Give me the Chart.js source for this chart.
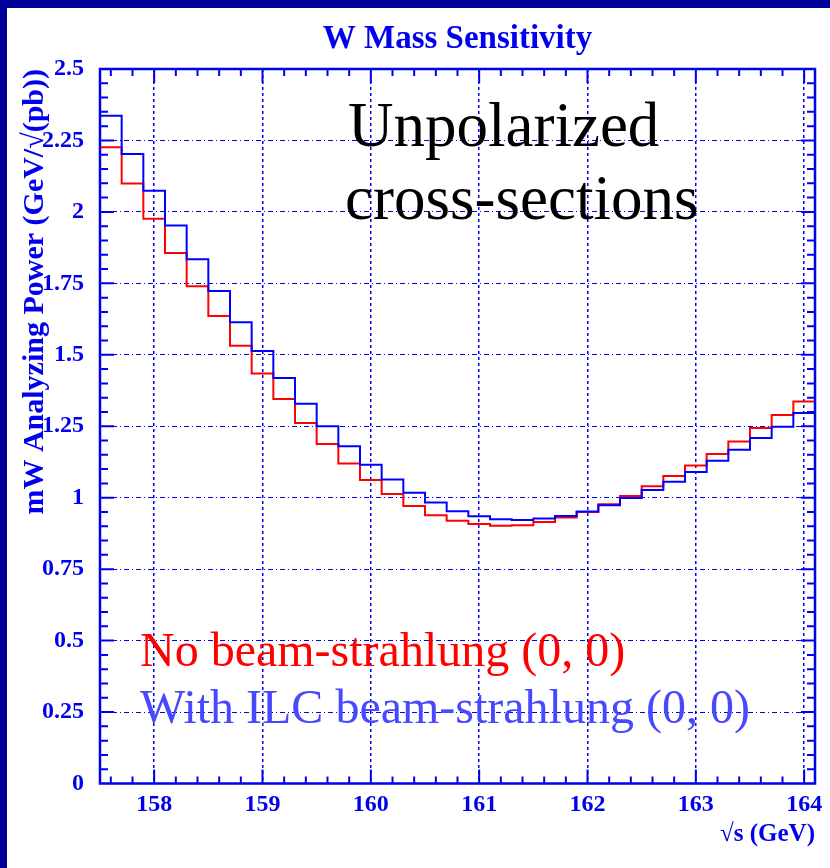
<!DOCTYPE html>
<html><head><meta charset="utf-8">
<script src="https://cdn.jsdelivr.net/npm/chart.js@4.4.0/dist/chart.umd.min.js"></script>
<style>html,body{margin:0;padding:0;background:#fff;overflow:hidden}canvas{display:block}</style>
</head><body><canvas id="c" width="830" height="868"></canvas>
<script>
// ---- data ----
const binEdges = [157.5,157.7,157.9,158.1,158.3,158.5,158.7,158.9,159.1,159.3,159.5,159.7,159.9,160.1,160.3,160.5,160.7,160.9,161.1,161.3,161.5,161.7,161.9,162.1,162.3,162.5,162.7,162.9,163.1,163.3,163.5,163.7,163.9,164.1];
const noBeamstrahlung = [2.226,2.099,1.976,1.856,1.740,1.636,1.532,1.435,1.345,1.261,1.188,1.120,1.062,1.013,0.971,0.939,0.919,0.908,0.902,0.904,0.915,0.931,0.950,0.977,1.006,1.040,1.076,1.113,1.153,1.197,1.244,1.289,1.337];
const withIlcBeamstrahlung = [2.336,2.203,2.074,1.952,1.834,1.723,1.614,1.513,1.419,1.329,1.250,1.180,1.115,1.064,1.017,0.983,0.953,0.935,0.925,0.922,0.927,0.936,0.952,0.974,0.999,1.027,1.056,1.090,1.129,1.168,1.209,1.248,1.296];
const xTickValues = [158,159,160,161,162,163,164];
const yTickValues = [0,0.25,0.5,0.75,1,1.25,1.5,1.75,2,2.25,2.5];
const chartTitle = "W Mass Sensitivity";
const seriesLabels = ["No beam-strahlung (0, 0)", "With ILC beam-strahlung (0, 0)"];
const annotationLines = ["Unpolarized", "cross-sections"];

const BLUE = '#0000ee';
const NAVY = '#000099';
const SERIF = '"Liberation Serif", "Times New Roman", serif';

function toSteps(values){
  const pts = values.map((v,i)=>({x: binEdges[i], y: v}));
  pts.push({x: binEdges[values.length], y: values[values.length-1]});
  return pts;
}

const decorPlugin = {
  id: 'decor',
  beforeDraw(chart){
    const ctx = chart.ctx;
    ctx.save();
    ctx.fillStyle = '#ffffff';
    ctx.fillRect(0,0,chart.width,chart.height);
    ctx.fillStyle = NAVY;
    ctx.fillRect(0,0,chart.width,8);
    ctx.fillRect(0,0,7,chart.height);
    ctx.restore();
  },
  afterDraw(chart){
    const ctx = chart.ctx;
    const a = chart.chartArea;
    const xs = chart.scales.x, ys = chart.scales.y;
    ctx.save();
    // ticks (inward, all four sides)
    ctx.strokeStyle = BLUE;
    ctx.lineWidth = 2;
    ctx.beginPath();
    for (let k = 0; k <= 33; k++) {
      const v = 157.6 + k*0.2;
      if (v > 164.1) break;
      const px = xs.getPixelForValue(v);
      const major = Math.abs(v - Math.round(v)) < 1e-6;
      const len = major ? 14 : 7;
      ctx.moveTo(px, a.bottom); ctx.lineTo(px, a.bottom - len);
      ctx.moveTo(px, a.top); ctx.lineTo(px, a.top + len);
    }
    for (let k = 1; k < 50; k++) {
      const v = k*0.05;
      const py = ys.getPixelForValue(v);
      const major = (k % 5) === 0;
      const len = major ? 14 : 8;
      ctx.moveTo(a.left, py); ctx.lineTo(a.left + len, py);
      ctx.moveTo(a.right, py); ctx.lineTo(a.right - len, py);
    }
    ctx.stroke();
    // frame
    ctx.lineWidth = 2.5;
    ctx.strokeRect(a.left, a.top, a.right - a.left, a.bottom - a.top);
    // title centred over the plot frame
    ctx.textBaseline = 'alphabetic';
    ctx.textAlign = 'center';
    ctx.fillStyle = BLUE;
    ctx.font = 'bold 33px ' + SERIF;
    ctx.fillText(chartTitle, (a.left + a.right) / 2, 48);
    // texts
    ctx.textAlign = 'left';
    ctx.fillStyle = '#000000';
    ctx.font = '63px ' + SERIF;
    ctx.fillText(annotationLines[0], 348, 146);
    ctx.fillText(annotationLines[1], 345, 219);
    ctx.font = '48px ' + SERIF;
    ctx.fillStyle = '#ff0000';
    ctx.fillText(seriesLabels[0], 140, 666);
    ctx.fillStyle = '#4848ff';
    ctx.fillText(seriesLabels[1], 140, 723);
    ctx.restore();
  }
};

new Chart(document.getElementById('c'), {
  type: 'line',
  data: {
    datasets: [
      { label: seriesLabels[1], data: toSteps(withIlcBeamstrahlung), borderColor: '#0000ff', borderWidth: 2, stepped: true, pointRadius: 0, fill: false },
      { label: seriesLabels[0], data: toSteps(noBeamstrahlung), borderColor: '#ff0000', borderWidth: 2, stepped: true, pointRadius: 0, fill: false }
    ]
  },
  options: {
    responsive: false,
    animation: false,
    devicePixelRatio: 1,
    layout: { padding: { left: 0, right: 15, top: 69, bottom: 0 } },
    plugins: {
      legend: { display: false },
      tooltip: { enabled: false },
      title: { display: false }
    },
    scales: {
      x: {
        type: 'linear',
        min: 157.5, max: 164.1,
        afterBuildTicks(s){ s.ticks = xTickValues.map(v=>({value:v})); },
        afterFit(s){ s.height = 84.5; },
        grid: { color: BLUE, lineWidth: 1.5, drawTicks: false },
        border: { display: false, dash: [3,3] },
        ticks: { color: BLUE, padding: 7, font: { family: SERIF, size: 24, weight: 'bold' }, callback: v => String(v) },
        title: { display: true, text: '\u221As (GeV)', align: 'end', color: BLUE, font: { family: SERIF, size: 25, weight: 'bold' }, padding: { top: 0, bottom: 18 } }
      },
      y: {
        type: 'linear',
        min: 0, max: 2.5,
        afterBuildTicks(s){ s.ticks = yTickValues.map(v=>({value:v})); },
        afterFit(s){ s.width = 100; },
        grid: { color: BLUE, lineWidth: 1, drawTicks: false },
        border: { display: false, dash: [5,3,1,3] },
        ticks: { color: BLUE, padding: 16, font: { family: SERIF, size: 24, weight: 'bold' }, callback: v => String(v) },
        title: { display: true, text: 'mW Analyzing Power (GeV/\u221A(pb))', align: 'end', color: BLUE, font: { family: SERIF, size: 30, weight: 'bold' }, padding: { top: 17, bottom: 0 } }
      }
    }
  },
  plugins: [decorPlugin]
});
</script>
</body></html>
